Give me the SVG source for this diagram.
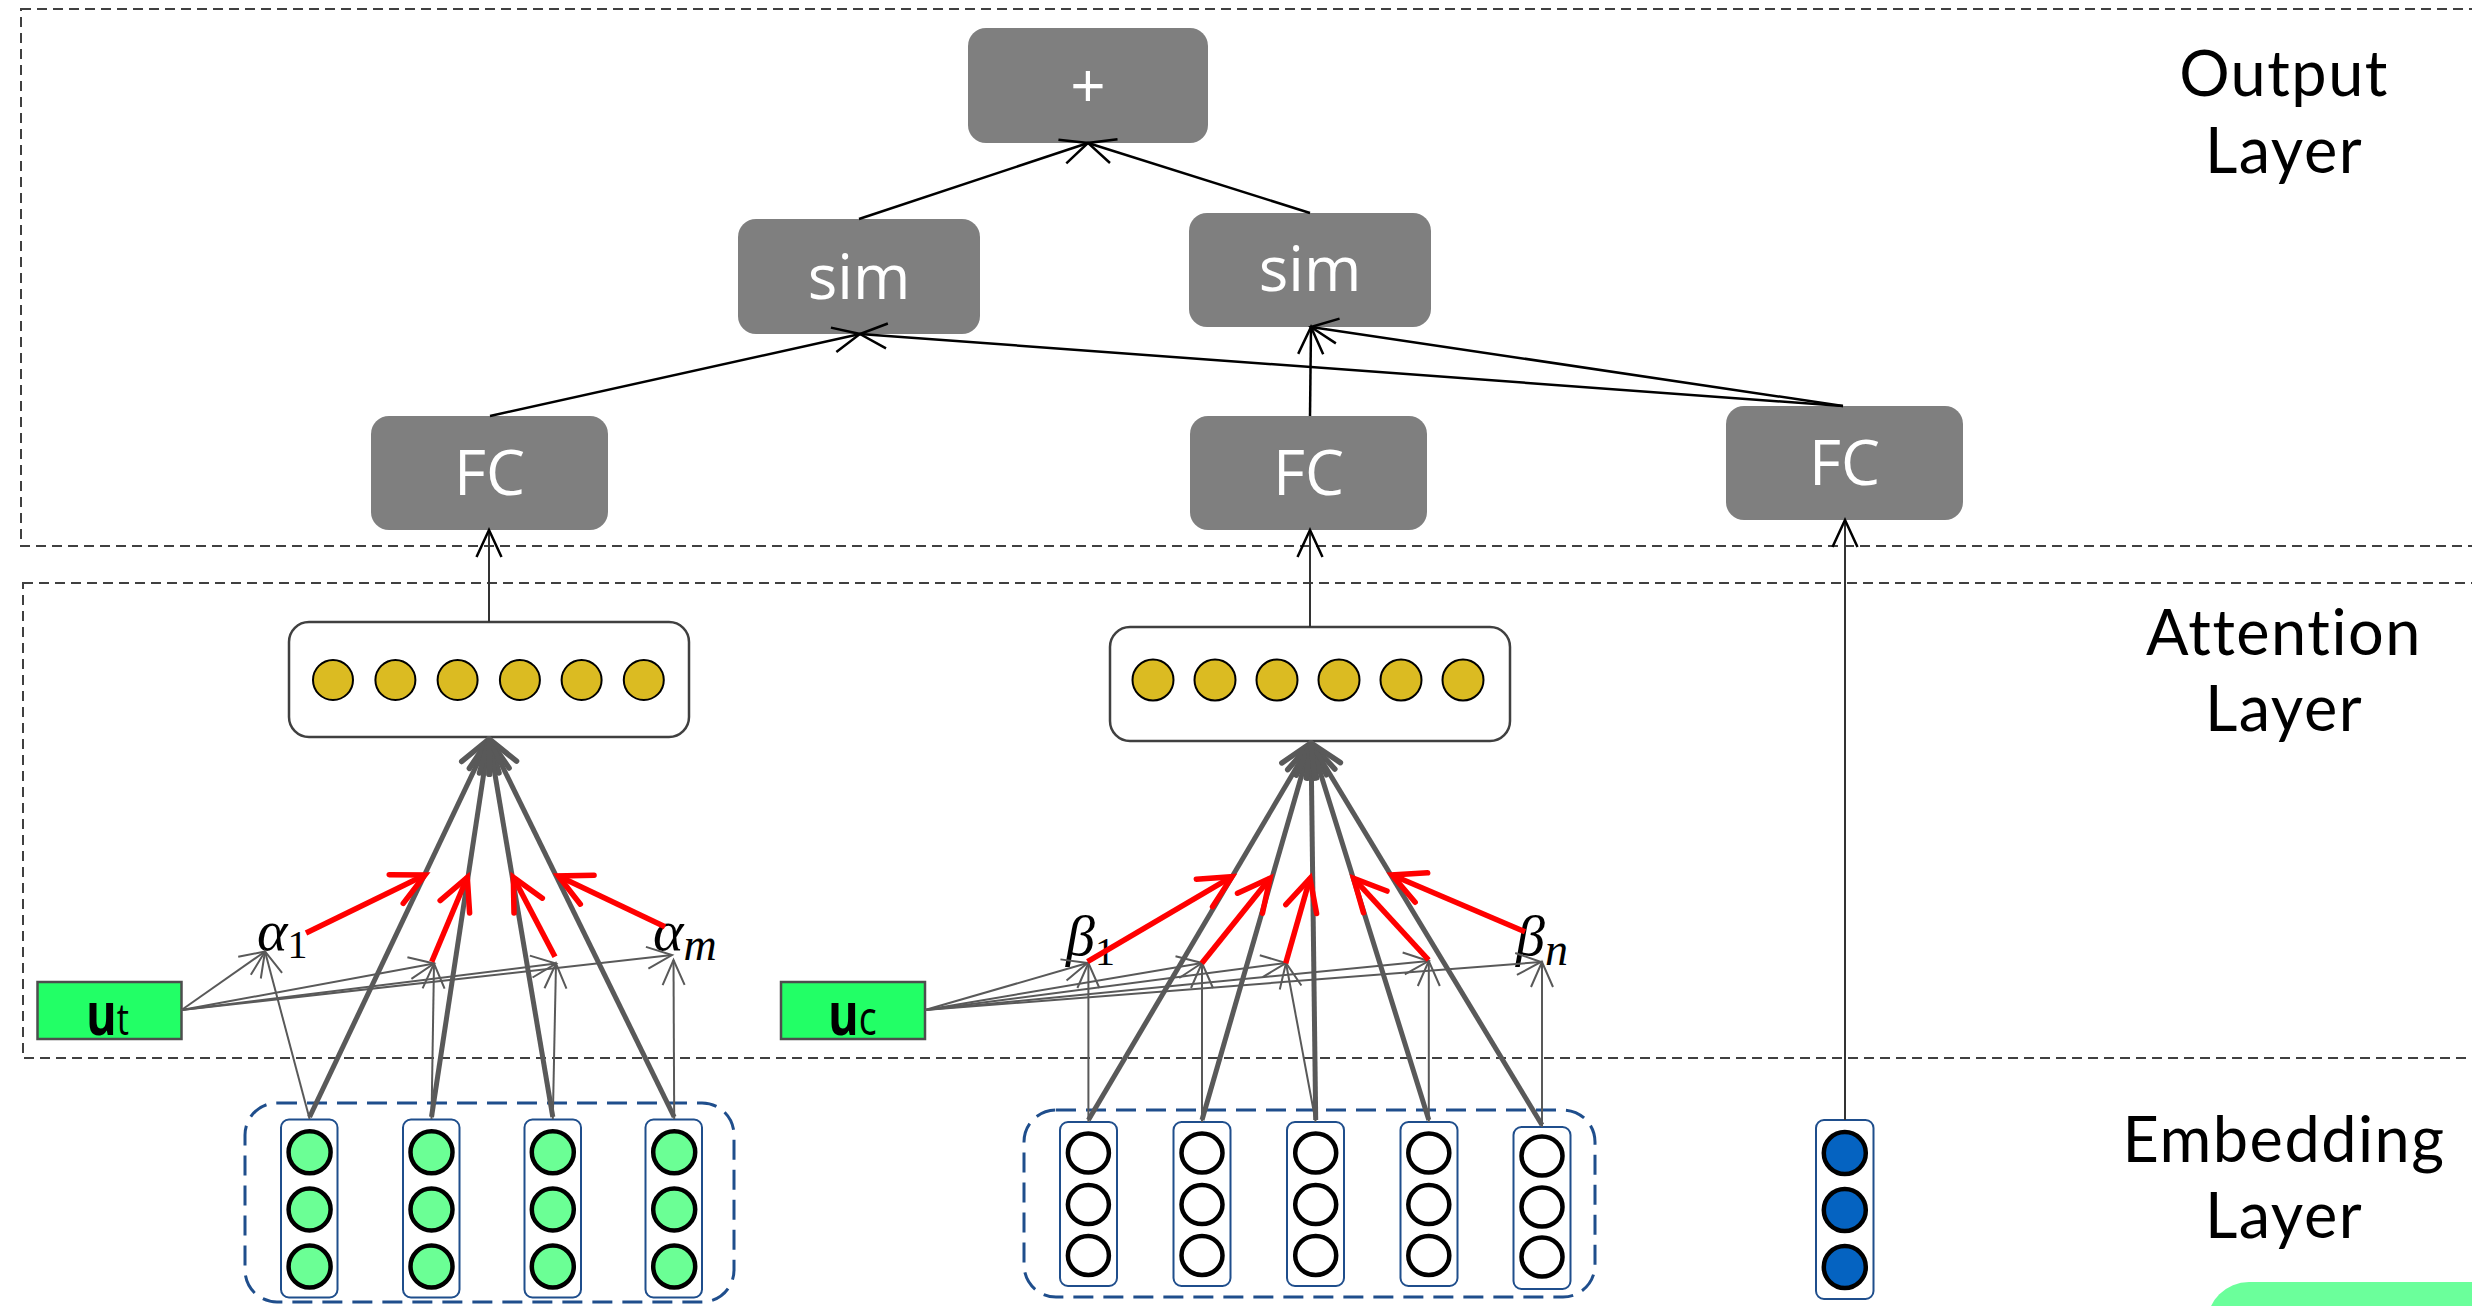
<svg xmlns="http://www.w3.org/2000/svg" width="2472" height="1306" viewBox="0 0 2472 1306">
  <style>
    .frame { fill: none; stroke: #404040; stroke-width: 2; stroke-dasharray: 10 6; }
    .op { fill: #7f7f7f; }
    .op-txt { fill: #ffffff; font-family: "Open Sans", "Noto Sans", sans-serif; font-size: 62px; text-anchor: middle; }
    .layer-txt { fill: #000000; font-family: Lato, "Open Sans", sans-serif; font-size: 63px; letter-spacing: 1.5px; text-anchor: middle; }
    .att-box { fill: #ffffff; stroke: #404040; stroke-width: 2.5; }
    .gold { fill: #dbbb22; stroke: #000000; stroke-width: 2; }
    .group { fill: none; stroke: #1f4e8c; stroke-width: 3; stroke-dasharray: 20 10; }
    .col { fill: #ffffff; stroke: #1f4e8c; stroke-width: 2; }
    .emb-g { fill: #6bff95; stroke: #000000; stroke-width: 4.5; }
    .emb-w { fill: #ffffff; stroke: #000000; stroke-width: 4.5; }
    .emb-b { fill: #0563c1; stroke: #000000; stroke-width: 4.5; }
    .query { fill: #22ff66; stroke: #4d4d4d; stroke-width: 2.5; }
    .q-txt { fill: #000000; font-family: "Open Sans", "Noto Sans", sans-serif; }
    .math { fill: #000000; font-family: "Liberation Serif", "DejaVu Serif", serif; font-style: italic; font-size: 58px; }
    .lk { fill: none; stroke: #000000; stroke-width: 2.5; marker-end: url(#ah-black); }
    .lk-up { fill: none; stroke: #333333; stroke-width: 2; marker-end: url(#ah-black); }
    .thin { fill: none; stroke: #595959; stroke-width: 2; marker-end: url(#ah-gray); }
    .thick { fill: none; stroke: #595959; stroke-width: 5; marker-end: url(#ah-thick); }
    .red { fill: none; stroke: #ff0000; stroke-width: 5.5; marker-end: url(#ah-red); }
  </style>
  <defs>
    <marker id="ah-black" markerUnits="userSpaceOnUse" orient="auto" refX="0" refY="0" markerWidth="40" markerHeight="40" viewBox="-35 -20 40 40" overflow="visible">
      <path d="M-27,-12.5 L0,0 L-27,12.5" fill="none" stroke="#000000" stroke-width="2.5"/>
    </marker>
    <marker id="ah-gray" markerUnits="userSpaceOnUse" orient="auto" refX="0" refY="0" markerWidth="40" markerHeight="40" viewBox="-35 -20 40 40" overflow="visible">
      <path d="M-25,-11 L0,0 L-25,11" fill="none" stroke="#595959" stroke-width="2"/>
    </marker>
    <marker id="ah-thick" markerUnits="userSpaceOnUse" orient="auto" refX="0" refY="0" markerWidth="40" markerHeight="40" viewBox="-35 -20 40 40" overflow="visible">
      <path d="M-32,-15 L0,0 L-32,15" fill="none" stroke="#595959" stroke-width="5.5" stroke-linecap="round" stroke-linejoin="round"/>
    </marker>
    <marker id="ah-red" markerUnits="userSpaceOnUse" orient="auto" refX="0" refY="0" markerWidth="40" markerHeight="40" viewBox="-35 -20 40 40" overflow="visible">
      <path d="M-32,-16 L0,0 L-32,16" fill="none" stroke="#ff0000" stroke-width="5.5" stroke-linecap="round"/>
    </marker>
  </defs>

  <rect width="2472" height="1306" fill="#ffffff"/>

  <!-- layer frames -->
  <g id="frames">
    <rect class="frame" x="21" y="9" width="2600" height="537"/>
    <rect class="frame" x="23" y="583" width="2600" height="475"/>
  </g>

  <!-- layer captions -->
  <g id="captions">
    <text class="layer-txt"><tspan x="2284" y="96">Output</tspan><tspan x="2284" y="173">Layer</tspan></text>
    <text class="layer-txt"><tspan x="2284" y="655">Attention</tspan><tspan x="2284" y="731">Layer</tspan></text>
    <text class="layer-txt"><tspan x="2284" y="1162">Embedding</tspan><tspan x="2284" y="1238">Layer</tspan></text>
  </g>

  <!-- output layer -->
  <g id="plus">
    <rect class="op" x="968" y="28" width="240" height="115" rx="18"/>
    <text class="op-txt" x="1088" y="108">+</text>
  </g>
  <g id="sim-left">
    <rect class="op" x="738" y="219" width="242" height="115" rx="18"/>
    <text class="op-txt" x="859" y="299">sim</text>
  </g>
  <g id="sim-right">
    <rect class="op" x="1189" y="213" width="242" height="114" rx="18"/>
    <text class="op-txt" x="1310" y="291">sim</text>
  </g>
  <g id="fc-left">
    <rect class="op" x="371" y="416" width="237" height="114" rx="18"/>
    <text class="op-txt" x="489.5" y="495">FC</text>
  </g>
  <g id="fc-mid">
    <rect class="op" x="1190" y="416" width="237" height="114" rx="18"/>
    <text class="op-txt" x="1308.5" y="495">FC</text>
  </g>
  <g id="fc-right">
    <rect class="op" x="1726" y="406" width="237" height="114" rx="18"/>
    <text class="op-txt" x="1844.5" y="485">FC</text>
  </g>

  <!-- attention pooled vectors -->
  <g id="att-left">
    <rect class="att-box" x="289" y="622" width="400" height="115" rx="20"/>
    <circle class="gold" cx="333" cy="680" r="20"/>
    <circle class="gold" cx="395.4" cy="680" r="20"/>
    <circle class="gold" cx="457.6" cy="680" r="20"/>
    <circle class="gold" cx="519.9" cy="680" r="20"/>
    <circle class="gold" cx="581.6" cy="680" r="20"/>
    <circle class="gold" cx="643.8" cy="680" r="20"/>
  </g>
  <g id="att-right">
    <rect class="att-box" x="1110" y="627" width="400" height="114" rx="20"/>
    <circle class="gold" cx="1153" cy="680" r="20.5"/>
    <circle class="gold" cx="1215" cy="680" r="20.5"/>
    <circle class="gold" cx="1277" cy="680" r="20.5"/>
    <circle class="gold" cx="1339" cy="680" r="20.5"/>
    <circle class="gold" cx="1401" cy="680" r="20.5"/>
    <circle class="gold" cx="1463" cy="680" r="20.5"/>
  </g>

  <!-- query vectors -->
  <g id="u-t">
    <rect class="query" x="37.5" y="982" width="144" height="57"/>
    <text class="q-txt" transform="translate(86,1035) scale(0.78,1)"><tspan font-weight="700" font-size="60">u</tspan><tspan font-size="44">t</tspan></text>
  </g>
  <g id="u-c">
    <rect class="query" x="781" y="982" width="144" height="57"/>
    <text class="q-txt" transform="translate(828,1035) scale(0.78,1)"><tspan font-weight="700" font-size="60">u</tspan><tspan font-size="48">c</tspan></text>
  </g>

  <!-- attention weights -->
  <g id="alpha-1"><text class="math" x="257" y="950">α<tspan font-style="normal" font-size="40" y="958">1</tspan></text></g>
  <g id="alpha-m"><text class="math" x="653" y="950">α<tspan font-size="46" y="960">m</tspan></text></g>
  <g id="beta-1"><text class="math" x="1066" y="955">β<tspan font-style="normal" font-size="40" y="965">1</tspan></text></g>
  <g id="beta-n"><text class="math" x="1516" y="955">β<tspan font-size="46" y="965">n</tspan></text></g>

  <!-- embedding layer: left sequence -->
  <g id="emb-left">
    <rect class="group" x="245" y="1103" width="489" height="199" rx="32"/>
    <g>
      <rect class="col" x="281" y="1119.5" width="56.5" height="178" rx="8"/>
      <circle class="emb-g" cx="309.6" cy="1152.3" r="21"/>
      <circle class="emb-g" cx="309.6" cy="1209.4" r="21"/>
      <circle class="emb-g" cx="309.6" cy="1266.5" r="21"/>
    </g>
    <g>
      <rect class="col" x="403" y="1119.5" width="56.5" height="178" rx="8"/>
      <circle class="emb-g" cx="431.5" cy="1152.3" r="21"/>
      <circle class="emb-g" cx="431.5" cy="1209.4" r="21"/>
      <circle class="emb-g" cx="431.5" cy="1266.5" r="21"/>
    </g>
    <g>
      <rect class="col" x="524.5" y="1119.5" width="56.5" height="178" rx="8"/>
      <circle class="emb-g" cx="552.8" cy="1152.3" r="21"/>
      <circle class="emb-g" cx="552.8" cy="1209.4" r="21"/>
      <circle class="emb-g" cx="552.8" cy="1266.5" r="21"/>
    </g>
    <g>
      <rect class="col" x="645.5" y="1119.5" width="56.5" height="178" rx="8"/>
      <circle class="emb-g" cx="674.2" cy="1152.3" r="21"/>
      <circle class="emb-g" cx="674.2" cy="1209.4" r="21"/>
      <circle class="emb-g" cx="674.2" cy="1266.5" r="21"/>
    </g>
  </g>

  <!-- embedding layer: right sequence -->
  <g id="emb-right">
    <rect class="group" x="1024" y="1110" width="571" height="187" rx="32"/>
    <g>
      <rect class="col" x="1060" y="1122" width="57" height="164" rx="8"/>
      <ellipse class="emb-w" cx="1088.4" cy="1153" rx="20.5" ry="19.5"/>
      <ellipse class="emb-w" cx="1088.4" cy="1204.6" rx="20.5" ry="19.5"/>
      <ellipse class="emb-w" cx="1088.4" cy="1255.5" rx="20.5" ry="19.5"/>
    </g>
    <g>
      <rect class="col" x="1173.5" y="1122" width="57" height="164" rx="8"/>
      <ellipse class="emb-w" cx="1202" cy="1153" rx="20.5" ry="19.5"/>
      <ellipse class="emb-w" cx="1202" cy="1204.6" rx="20.5" ry="19.5"/>
      <ellipse class="emb-w" cx="1202" cy="1255.5" rx="20.5" ry="19.5"/>
    </g>
    <g>
      <rect class="col" x="1287" y="1122" width="57" height="164" rx="8"/>
      <ellipse class="emb-w" cx="1315.7" cy="1153" rx="20.5" ry="19.5"/>
      <ellipse class="emb-w" cx="1315.7" cy="1204.6" rx="20.5" ry="19.5"/>
      <ellipse class="emb-w" cx="1315.7" cy="1255.5" rx="20.5" ry="19.5"/>
    </g>
    <g>
      <rect class="col" x="1400.5" y="1122" width="57" height="164" rx="8"/>
      <ellipse class="emb-w" cx="1428.8" cy="1153" rx="20.5" ry="19.5"/>
      <ellipse class="emb-w" cx="1428.8" cy="1204.6" rx="20.5" ry="19.5"/>
      <ellipse class="emb-w" cx="1428.8" cy="1255.5" rx="20.5" ry="19.5"/>
    </g>
    <g>
      <rect class="col" x="1513.5" y="1127" width="57" height="162" rx="8"/>
      <ellipse class="emb-w" cx="1542" cy="1156" rx="20.5" ry="19.5"/>
      <ellipse class="emb-w" cx="1542" cy="1207" rx="20.5" ry="19.5"/>
      <ellipse class="emb-w" cx="1542" cy="1257" rx="20.5" ry="19.5"/>
    </g>
  </g>

  <!-- embedding layer: single vector -->
  <g id="emb-single">
    <rect class="col" x="1816" y="1120" width="57.5" height="179" rx="8"/>
    <circle class="emb-b" cx="1844.8" cy="1153" r="21"/>
    <circle class="emb-b" cx="1844.8" cy="1210" r="21"/>
    <circle class="emb-b" cx="1844.8" cy="1267" r="21"/>
  </g>

  <!-- corner badge -->
  <rect x="2207" y="1282" width="400" height="100" rx="42" fill="#6bff9b"/>

  <g id="connectors">
    <!-- output layer -->
    <path class="lk" d="M859,219 L1088,143"/>
    <path class="lk" d="M1310,213 L1088,143"/>
    <path class="lk" d="M490,416 L860,334"/>
    <path class="lk" d="M1843,406 L860,334"/>
    <path class="lk" d="M1843,406 L1311,327"/>
    <path class="lk" d="M1310,416 L1311,327"/>
    <path class="lk-up" d="M489,622 L489,530"/>
    <path class="lk-up" d="M1310,627 L1310,530"/>
    <path class="lk-up" d="M1845,1120 L1845,520"/>

    <!-- left attention: query to scores -->
    <path class="thin" d="M181.5,1010 L265,951.5"/>
    <path class="thin" d="M181.5,1010 L434,963.5"/>
    <path class="thin" d="M181.5,1010 L556,963.5"/>
    <path class="thin" d="M181.5,1010 L672,955"/>
    <!-- left attention: items to scores -->
    <path class="thin" d="M309.6,1119 L265,951.5"/>
    <path class="thin" d="M431.5,1119 L434,963.5"/>
    <path class="thin" d="M552.8,1119 L556,963.5"/>
    <path class="thin" d="M674.2,1119 L673.5,960"/>
    <!-- left attention: weighted sum -->
    <path class="thick" d="M309.6,1117 L489,739"/>
    <path class="thick" d="M431.5,1117 L489,739"/>
    <path class="thick" d="M552.8,1117 L489,739"/>
    <path class="thick" d="M674.2,1117 L489,739"/>
    <!-- left attention: weights -->
    <path class="red" d="M306,933 L425,875"/>
    <path class="red" d="M431.7,961.7 L467.3,877.3"/>
    <path class="red" d="M555,956.7 L513.3,877.3"/>
    <path class="red" d="M665,926.7 L558.3,876"/>

    <!-- right attention: query to scores -->
    <path class="thin" d="M925,1010 L1087.5,963"/>
    <path class="thin" d="M925,1010 L1202,963"/>
    <path class="thin" d="M925,1010 L1286,963"/>
    <path class="thin" d="M925,1010 L1428.6,961"/>
    <path class="thin" d="M925,1010 L1541,962"/>
    <!-- right attention: items to scores -->
    <path class="thin" d="M1088.4,1122 L1088.4,963"/>
    <path class="thin" d="M1202,1122 L1202,963"/>
    <path class="thin" d="M1315.7,1122 L1286,963"/>
    <path class="thin" d="M1428.8,1122 L1428.8,961"/>
    <path class="thin" d="M1542,1127 L1542,962"/>
    <!-- right attention: weighted sum -->
    <path class="thick" d="M1088.4,1120 L1311,743"/>
    <path class="thick" d="M1202,1120 L1311,743"/>
    <path class="thick" d="M1315.7,1120 L1311,743"/>
    <path class="thick" d="M1428.8,1120 L1311,743"/>
    <path class="thick" d="M1542,1125 L1311,743"/>
    <!-- right attention: weights -->
    <path class="red" d="M1087.5,961.7 L1232,876.7"/>
    <path class="red" d="M1201.8,963.3 L1270,878.3"/>
    <path class="red" d="M1285.7,963.3 L1310,878.3"/>
    <path class="red" d="M1428.6,960 L1353.6,878.3"/>
    <path class="red" d="M1525,931.7 L1392,875"/>
  </g>
</svg>
